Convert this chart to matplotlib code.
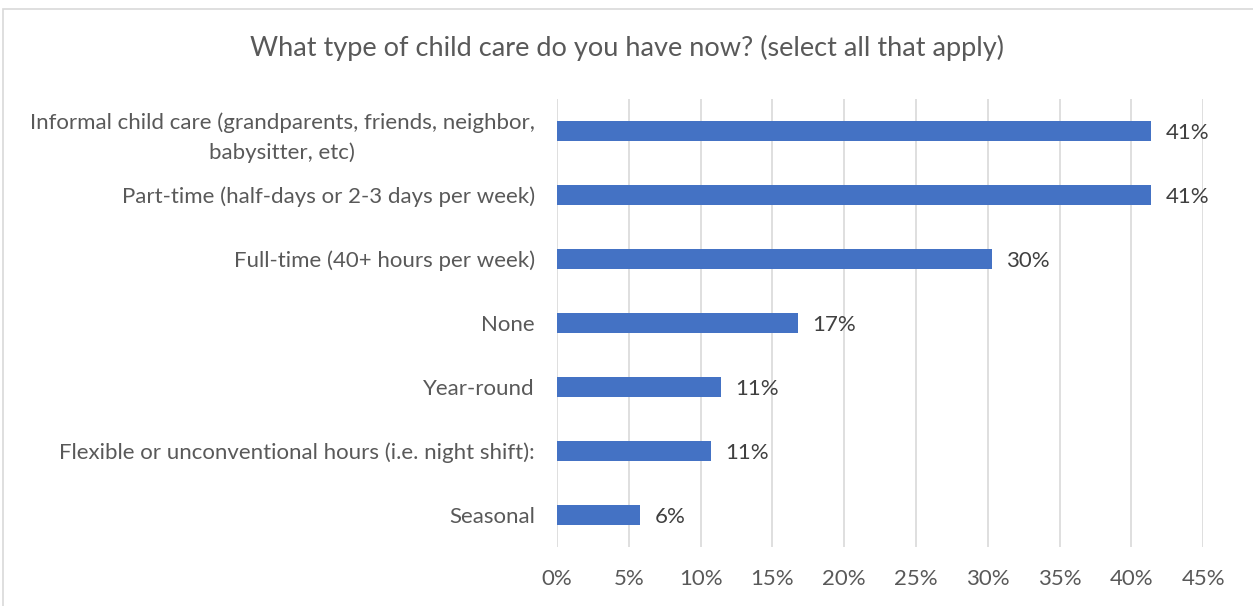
import matplotlib.pyplot as plt
from matplotlib.patches import Rectangle
from matplotlib.ticker import MultipleLocator, FuncFormatter

# data (fractions, top to bottom)
categories = [
    'Informal child care (grandparents, friends, neighbor,\nbabysitter, etc)',
    'Part-time (half-days or 2-3 days per week)',
    'Full-time (40+ hours per week)',
    'None',
    'Year-round',
    'Flexible or unconventional hours (i.e. night shift):',
    'Seasonal',
]
values = [0.414, 0.414, 0.303, 0.168, 0.114, 0.107, 0.058]
title = 'What type of child care do you have now? (select all that apply)'

plt.rcParams['font.family'] = ['Lato', 'DejaVu Sans']
text_col = '#595959'
bar_col = '#4472C4'
grid_col = '#d9d9d9'

fig = plt.figure(figsize=(12.53, 6.06), dpi=100)
ax = fig.add_axes([0.4445, 0.0974, 0.5157, 0.7392])

# chart border (cut off at right / bottom like the screenshot)
fig.patches.append(Rectangle((3 / 1253, -0.1), 1.2, 1 - 9 / 606 + 0.1,
                             transform=fig.transFigure, fill=False,
                             edgecolor='#d9d9d9', linewidth=1.2))

ypos = list(range(len(categories)))
ax.barh(ypos, values, height=0.3, color=bar_col, zorder=3)
for y, v in zip(ypos, values):
    ax.text(v + 0.01, y + 0.03, f'{round(v * 100):.0f}%', va='center', ha='left',
            fontsize=16, color='#404040', zorder=4)

ax.set_xlim(0, 0.45)
ax.set_ylim(len(categories) - 0.5, -0.5)
ax.xaxis.set_major_locator(MultipleLocator(0.05))
ax.xaxis.set_major_formatter(FuncFormatter(lambda x, p: f'{x * 100:.0f}%'))
ax.set_yticks(ypos)
ax.set_yticklabels(categories, multialignment='center', linespacing=1.55)
ax.grid(axis='x', color=grid_col, linewidth=1.2, zorder=0)
ax.tick_params(axis='both', length=0, labelsize=16, colors=text_col)
ax.tick_params(axis='x', pad=16)
ax.tick_params(axis='y', pad=16)
for s in ax.spines.values():
    s.set_visible(False)

fig.text(0.5, 1 - 48 / 606, title, ha='center', va='center',
         fontsize=19.5, color=text_col)

fig.savefig('out.png', dpi=100, facecolor='white')
